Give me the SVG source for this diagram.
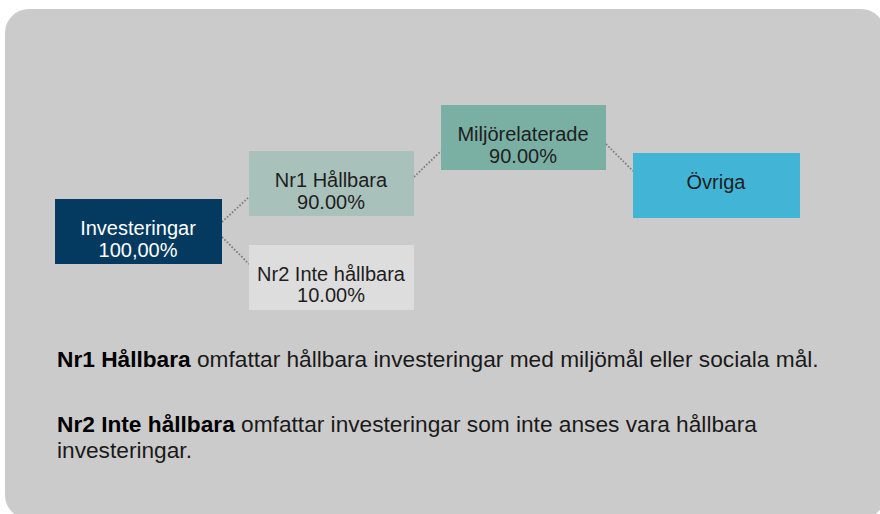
<svg xmlns="http://www.w3.org/2000/svg" width="880" height="514" viewBox="0 0 880 514">
<style>
.t{font-family:"Liberation Sans",Arial,sans-serif;font-size:20px;fill:#1e1e1e;text-anchor:middle}
.w{fill:#ffffff}
.c{fill:none;stroke:#7c7c7c;stroke-width:1.8;stroke-dasharray:1.6 1.8}
.p{font-family:"Liberation Sans",Arial,sans-serif;font-size:22.7px;fill:#1a1a1a}
.b{font-weight:bold;fill:#000}
</style>
<rect x="0" y="0" width="880" height="514" fill="#ffffff"/>
<rect x="5" y="9" width="880" height="510" rx="24" ry="24" fill="#cbcbcb"/>
<g id="connectors">
<path class="c" d="M222 222 L249 197"/>
<path class="c" d="M222 237 L249 264"/>
<path class="c" d="M414 177 L441 151"/>
<path class="c" d="M606 144 L633 171"/>
</g>
<g id="investeringar">
<rect x="55" y="199" width="167" height="65" fill="#053a60"/>
<text class="t w" x="138" y="235">Investeringar</text>
<text class="t w" x="138" y="256.7">100,00%</text>
</g>
<g id="nr1">
<rect x="249" y="151" width="165" height="65" fill="#a9c1bb"/>
<text class="t" x="331" y="187.3">Nr1 Hållbara</text>
<text class="t" x="331" y="209">90.00%</text>
</g>
<g id="nr2">
<rect x="249" y="245" width="165" height="65" fill="#dddddd"/>
<text class="t" x="331" y="280.5">Nr2 Inte hållbara</text>
<text class="t" x="331" y="302">10.00%</text>
</g>
<g id="miljo">
<rect x="441" y="105" width="165" height="65" fill="#7aafa3"/>
<text class="t" x="523" y="140.7">Miljörelaterade</text>
<text class="t" x="523" y="162.5">90.00%</text>
</g>
<g id="ovriga">
<rect x="633" y="153" width="167" height="65" fill="#42b4d6"/>
<text class="t" x="716" y="188.7">Övriga</text>
</g>
<g id="legend">
<text class="p" x="57" y="366.7"><tspan class="b">Nr1 Hållbara</tspan> omfattar hållbara investeringar med miljömål eller sociala mål.</text>
<text class="p" x="57" y="431.7"><tspan class="b">Nr2 Inte hållbara</tspan> omfattar investeringar som inte anses vara hållbara</text>
<text class="p" x="57" y="458.3">investeringar.</text>
</g>
</svg>
